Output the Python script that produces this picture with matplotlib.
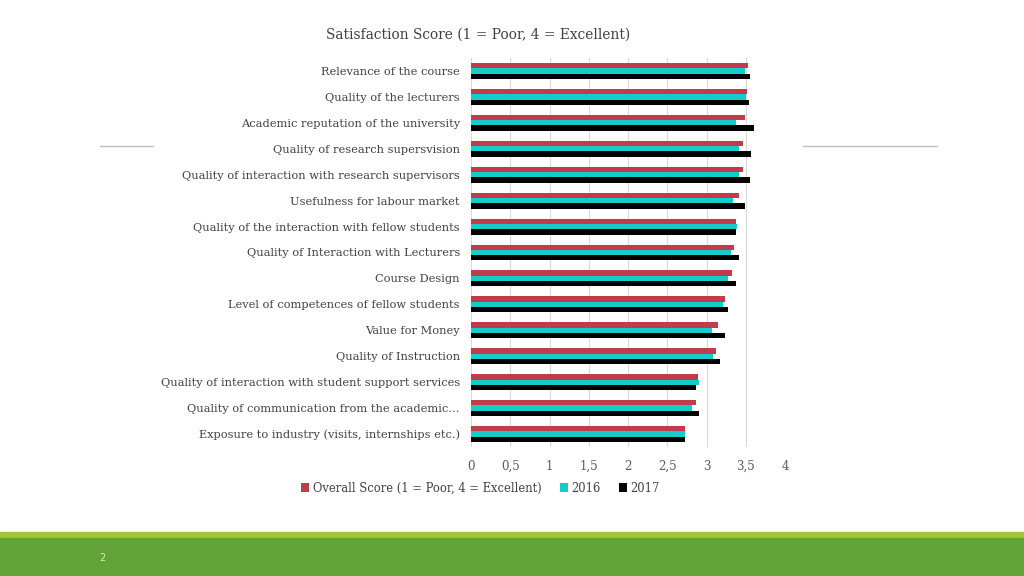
import numpy as np
import matplotlib
matplotlib.use("Agg")
import matplotlib.pyplot as plt
from matplotlib.patches import Rectangle
from matplotlib.lines import Line2D

categories = [
    "Relevance of the course",
    "Quality of the lecturers",
    "Academic reputation of the university",
    "Quality of research supersvision",
    "Quality of interaction with research supervisors",
    "Usefulness for labour market",
    "Quality of the interaction with fellow students",
    "Quality of Interaction with Lecturers",
    "Course Design",
    "Level of competences of fellow students",
    "Value for Money",
    "Quality of Instruction",
    "Quality of interaction with student support services",
    "Quality of communication from the academic\u2026",
    "Exposure to industry (visits, internships etc.)",
]
overall = [3.53, 3.52, 3.49, 3.47, 3.46, 3.41, 3.38, 3.35, 3.32, 3.24, 3.15, 3.12, 2.89, 2.86, 2.73]
y2016 = [3.49, 3.50, 3.38, 3.41, 3.41, 3.34, 3.39, 3.31, 3.27, 3.21, 3.07, 3.08, 2.91, 2.82, 2.73]
y2017 = [3.56, 3.54, 3.60, 3.57, 3.55, 3.49, 3.37, 3.41, 3.37, 3.27, 3.23, 3.17, 2.86, 2.90, 2.72]
series_names = ["Overall Score (1 = Poor, 4 = Excellent)", "2016", "2017"]
xticks = [0, 0.5, 1, 1.5, 2, 2.5, 3, 3.5, 4]
xtick_labels = ["0", "0,5", "1", "1,5", "2", "2,5", "3", "3,5", "4"]

plt.rcParams['font.family'] = ['DejaVu Serif']
text_col = "#404040"
colors = ["#C23B4A", "#14CCC8", "#000000"]

fig = plt.figure(figsize=(10.24, 5.76), dpi=100)
fig.patch.set_facecolor("white")

ax = fig.add_axes([471 / 1024, 1 - 447 / 576, (785 - 471) / 1024, (447 - 58) / 576])
y = np.arange(len(categories))
h = 0.205
for i, (vals, c) in enumerate(zip([overall, y2016, y2017], colors)):
    ax.barh(y + (i - 1) * h, vals, height=h, color=c, label=series_names[i], zorder=3)

ax.set_xlim(0, 4)
ax.set_ylim(len(categories) - 0.5, -0.5)
ax.set_yticks(y)
ax.set_yticklabels(categories, fontsize=8.2, color=text_col)
ax.set_xticks(xticks)
ax.set_xticklabels(xtick_labels, fontsize=8.5, color="#595959")
ax.tick_params(axis="both", length=0)
ax.tick_params(axis="x", pad=9)
ax.tick_params(axis="y", pad=8)
ax.grid(axis="x", color="#D9D9D9", linewidth=0.8, zorder=0)
for s in ax.spines.values():
    s.set_visible(False)

fig.text(478 / 1024, 1 - 35 / 576, "Satisfaction Score (1 = Poor, 4 = Excellent)",
         fontsize=9.9, color=text_col, ha="center", va="center")

leg = ax.legend(loc="center", bbox_to_anchor=(0.03, 1 - (488 - 58) / (447 - 58)), ncol=3,
                frameon=False, fontsize=8.3, handlelength=0.7, handleheight=0.7,
                handletextpad=0.3, columnspacing=1.6)
for t in leg.get_texts():
    t.set_color(text_col)

# decorative slide elements
fig.add_artist(Line2D([100 / 1024, 153 / 1024], [1 - 146 / 576] * 2, color="#BFBFBF", lw=1))
fig.add_artist(Line2D([803 / 1024, 937 / 1024], [1 - 146 / 576] * 2, color="#BFBFBF", lw=1))
fig.add_artist(Rectangle((0, 0), 1, 44 / 576, transform=fig.transFigure, color="#A2C53C", zorder=0))
fig.add_artist(Rectangle((0, 0), 1, 38 / 576, transform=fig.transFigure, color="#62A337", zorder=1))
fig.text(102 / 1024, 1 - 558 / 576, "2", fontsize=7, color="#D4EDB5", family="DejaVu Sans",
         ha="center", va="center")

fig.savefig("out.png", dpi=100)
